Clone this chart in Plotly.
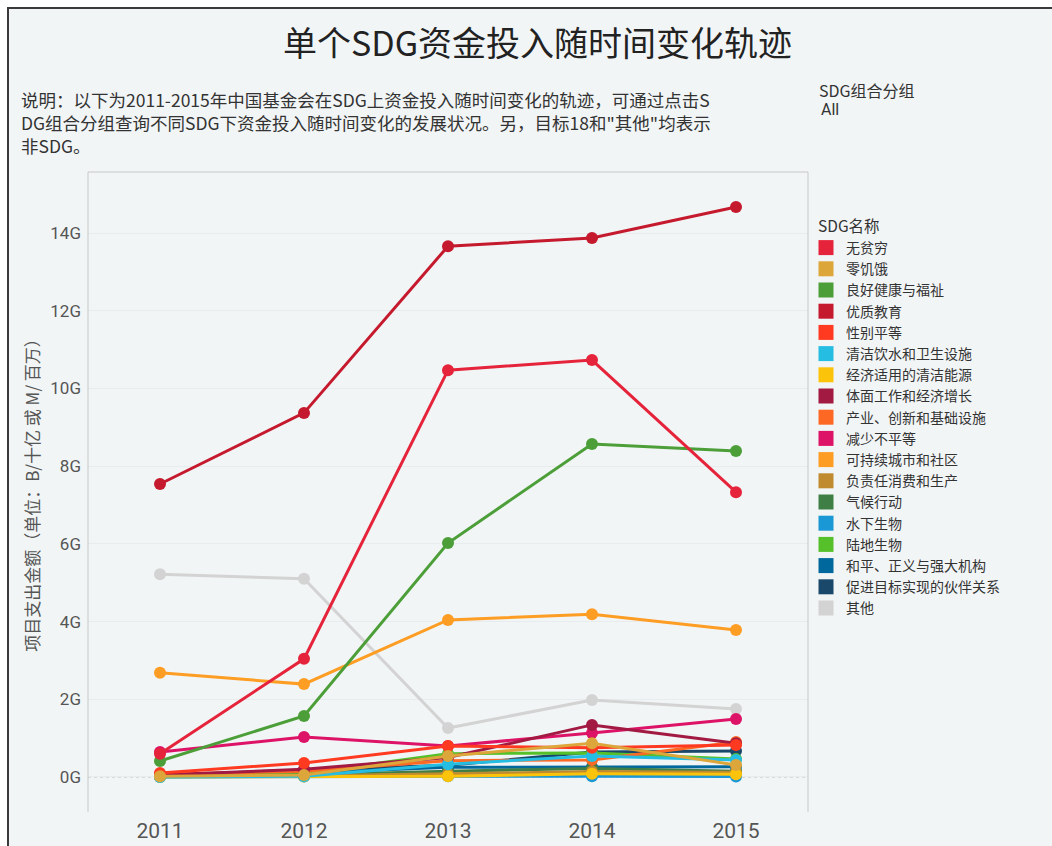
import plotly.graph_objects as go

# 年份与各SDG目标的资金投入（单位：十亿）
years = [2011, 2012, 2013, 2014, 2015]

sdg_names = [
    "无贫穷", "零饥饿", "良好健康与福祉", "优质教育", "性别平等",
    "清洁饮水和卫生设施", "经济适用的清洁能源", "体面工作和经济增长",
    "产业、创新和基础设施", "减少不平等", "可持续城市和社区",
    "负责任消费和生产", "气候行动", "水下生物", "陆地生物",
    "和平、正义与强大机构", "促进目标实现的伙伴关系", "其他",
]

sdg_colors = [
    "#E5243B", "#DDA63A", "#4C9F38", "#C5192D", "#FF3A21",
    "#26BDE2", "#FCC30B", "#A21942", "#FD6925", "#DD1367",
    "#FD9D24", "#BF8B2E", "#3F7E44", "#1A97D5", "#56C02B",
    "#00689D", "#19486A", "#D3D3D3",
]

no_poverty = [0.60, 3.04, 10.47, 10.73, 7.33]
zero_hunger = [0.02, 0.05, 0.54, 0.87, 0.31]
good_health = [0.41, 1.57, 6.02, 8.57, 8.39]
quality_education = [7.54, 9.37, 13.66, 13.87, 14.67]
gender_equality = [0.10, 0.36, 0.80, 0.75, 0.82]
clean_water = [0.00, 0.02, 0.33, 0.54, 0.44]
clean_energy = [0.00, 0.01, 0.02, 0.08, 0.07]
decent_work = [0.05, 0.20, 0.50, 1.34, 0.87]
industry = [0.07, 0.15, 0.42, 0.44, 0.90]
reduced_inequality = [0.64, 1.03, 0.80, 1.13, 1.49]
sustainable_cities = [2.68, 2.39, 4.04, 4.19, 3.78]
responsible_consumption = [0.02, 0.03, 0.08, 0.14, 0.12]
climate_action = [0.01, 0.05, 0.15, 0.22, 0.15]
life_below_water = [0.00, 0.01, 0.02, 0.02, 0.01]
life_on_land = [0.03, 0.10, 0.60, 0.62, 0.46]
peace_justice = [0.02, 0.10, 0.25, 0.26, 0.26]
partnerships = [0.04, 0.18, 0.30, 0.64, 0.67]
others = [5.22, 5.10, 1.26, 1.98, 1.75]

series = [
    no_poverty, zero_hunger, good_health, quality_education, gender_equality,
    clean_water, clean_energy, decent_work, industry, reduced_inequality,
    sustainable_cities, responsible_consumption, climate_action,
    life_below_water, life_on_land, peace_justice, partnerships, others,
]

y_tick_vals = [0, 2, 4, 6, 8, 10, 12, 14]
y_tick_text = ["0G", "2G", "4G", "6G", "8G", "10G", "12G", "14G"]

CJK = "Noto Sans CJK SC"
TEXT = "#333333"
TICK = "#555555"
PANEL = "#F2F5F6"

fig = go.Figure()

# 数据线：倒序绘制，使前面的目标位于上层
for i in reversed(range(len(sdg_names))):
    fig.add_trace(go.Scatter(
        x=years, y=series[i], mode="lines+markers",
        name=sdg_names[i],
        line=dict(color=sdg_colors[i], width=3),
        marker=dict(color=sdg_colors[i], size=12),
        showlegend=False,
        hovertemplate="%{x}<br>" + sdg_names[i] + ": %{y:.2f}G<extra></extra>",
    ))

# 图例：方形色块
for name, color in zip(sdg_names, sdg_colors):
    fig.add_trace(go.Scatter(
        x=[None], y=[None], mode="markers", name=name,
        marker=dict(color=color, size=15, symbol="square"),
        showlegend=True, hoverinfo="skip",
    ))


def px_x(px):
    return (px - 88) / 720


def px_y(py):
    return (810 - py) / 638


shapes = [
    # 面板背景与深色边框
    dict(type="rect", xref="paper", yref="paper",
         x0=px_x(8), x1=px_x(1060), y0=px_y(860), y1=px_y(8),
         fillcolor=PANEL, line=dict(color="#3a3a3a", width=2), layer="below"),
    # 绘图区左、上、右边线
    dict(type="line", xref="paper", yref="paper", x0=0, x1=0, y0=px_y(812), y1=1,
         line=dict(color="#C8C8C8", width=1)),
    dict(type="line", xref="paper", yref="paper", x0=0, x1=1, y0=1, y1=1,
         line=dict(color="#C8C8C8", width=1)),
    dict(type="line", xref="paper", yref="paper", x0=1, x1=1, y0=px_y(812), y1=1,
         line=dict(color="#C8C8C8", width=1)),
    # 零值虚线
    dict(type="line", xref="paper", yref="y", x0=0, x1=1, y0=0, y1=0,
         line=dict(color="#BBBBBB", width=1, dash="dot"), layer="below"),
]

desc_font = dict(family=CJK, size=17.5, color=TEXT)

annotations = [
    dict(text="单个SDG资金投入随时间变化轨迹", x=px_x(537), y=px_y(42),
         xref="paper", yref="paper", showarrow=False, xanchor="center", yanchor="middle",
         font=dict(family=CJK, size=34, color="#222222")),
    dict(text="说明：以下为2011-2015年中国基金会在SDG上资金投入随时间变化的轨迹，可通过点击S",
         x=px_x(20), y=px_y(99.5), xref="paper", yref="paper", showarrow=False,
         xanchor="left", yanchor="middle", font=desc_font, borderpad=0),
    dict(text="DG组合分组查询不同SDG下资金投入随时间变化的发展状况。另，目标18和\"其他\"均表示",
         x=px_x(20), y=px_y(122.5), xref="paper", yref="paper", showarrow=False,
         xanchor="left", yanchor="middle", font=desc_font, borderpad=0),
    dict(text="非SDG。",
         x=px_x(20), y=px_y(145.5), xref="paper", yref="paper", showarrow=False,
         xanchor="left", yanchor="middle", font=desc_font, borderpad=0),
    dict(text="SDG组合分组", x=px_x(817), y=px_y(90), xref="paper", yref="paper",
         showarrow=False, xanchor="left", yanchor="middle",
         font=dict(family=CJK, size=16, color=TEXT)),
    dict(text="All", x=px_x(819), y=px_y(109), xref="paper", yref="paper",
         showarrow=False, xanchor="left", yanchor="middle",
         font=dict(family="Roboto", size=16, color=TEXT)),
    dict(text="SDG名称", x=px_x(817), y=px_y(225), xref="paper", yref="paper",
         showarrow=False, xanchor="left", yanchor="middle", borderpad=0,
         font=dict(family=CJK, size=15.5, color=TEXT)),
]

fig.update_layout(
    width=1052, height=846,
    margin=dict(l=88, r=244, t=172, b=36),
    paper_bgcolor="white",
    plot_bgcolor="rgba(0,0,0,0)",
    shapes=shapes,
    annotations=annotations,
    showlegend=True,
    legend=dict(
        font=dict(family=CJK, size=14, color=TEXT),
        x=px_x(806), xanchor="left", y=px_y(232), yanchor="top",
        bgcolor="rgba(0,0,0,0)", itemclick=False, itemdoubleclick=False,
    ),
    xaxis=dict(
        range=[2010.5, 2015.5], tickvals=years, ticktext=[str(y) for y in years],
        showgrid=False, zeroline=False, showline=False, ticks="",
        ticklabelstandoff=6, automargin=False,
        tickfont=dict(family="Roboto", size=21, color=TICK),
    ),
    yaxis=dict(
        range=[-0.85, 15.57], tickvals=y_tick_vals, ticktext=y_tick_text,
        showgrid=True, gridcolor="#E8ECEE", gridwidth=1,
        zeroline=False, showline=False, ticks="",
        ticklabelstandoff=6, automargin=False,
        tickfont=dict(family="Roboto", size=17, color=TICK),
        title=dict(text="项目支出金额（单位：B/十亿 或 M/ 百万）",
                   font=dict(family=CJK, size=17, color=TICK), standoff=6),
    ),
)

fig.write_html("out.html")
